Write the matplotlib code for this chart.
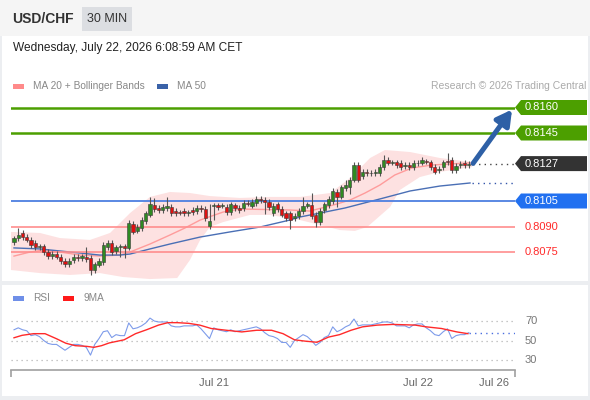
import numpy as np
import matplotlib
matplotlib.use("Agg")
import matplotlib.pyplot as plt
from matplotlib.patches import Rectangle, Polygon
from matplotlib.transforms import blended_transform_factory

plt.rcParams['font.family'] = ['Liberation Sans', 'DejaVu Sans']

# 30 min candles, USD/CHF
opens = [0.80809, 0.80832, 0.80862, 0.80838, 0.80821, 0.80803, 0.80779, 0.80785, 0.80750, 0.80726,
         0.80738, 0.80721, 0.80697, 0.80679, 0.80703, 0.80721, 0.80715, 0.80721, 0.80715, 0.80644,
         0.80674, 0.80691, 0.80779, 0.80803, 0.80756, 0.80779, 0.80785, 0.80774, 0.80915, 0.80874,
         0.80891, 0.80932, 0.80968, 0.81026, 0.81009, 0.80997, 0.81009, 0.81015, 0.80991, 0.80985,
         0.80991, 0.80979, 0.80997, 0.80991, 0.81009, 0.81003, 0.80903, 0.81021, 0.81026, 0.81021,
         0.81015, 0.80985, 0.81026, 0.81009, 0.81009, 0.81038, 0.81021, 0.81038, 0.81062, 0.81056,
         0.81044, 0.80979, 0.81032, 0.81003, 0.80979, 0.80979, 0.80950, 0.80962, 0.80991, 0.81021,
         0.81026, 0.80968, 0.80926, 0.80997, 0.81026, 0.81050, 0.81103, 0.81074, 0.81126, 0.81132,
         0.81174, 0.81262, 0.81197, 0.81221, 0.81215, 0.81215, 0.81215, 0.81250, 0.81291, 0.81274,
         0.81279, 0.81274, 0.81256, 0.81262, 0.81250, 0.81274, 0.81274, 0.81285, 0.81279, 0.81250,
         0.81232, 0.81250, 0.81285, 0.81291, 0.81232, 0.81262, 0.81274, 0.81262]
closes = [0.80832, 0.80850, 0.80838, 0.80821, 0.80791, 0.80779, 0.80785, 0.80750, 0.80726, 0.80738,
          0.80721, 0.80697, 0.80679, 0.80697, 0.80721, 0.80715, 0.80726, 0.80709, 0.80644, 0.80679,
          0.80697, 0.80791, 0.80803, 0.80750, 0.80779, 0.80785, 0.80774, 0.80921, 0.80868, 0.80897,
          0.80938, 0.80979, 0.81032, 0.81003, 0.80997, 0.81015, 0.81021, 0.80979, 0.80979, 0.80982,
          0.80979, 0.80985, 0.80985, 0.81009, 0.81003, 0.80950, 0.80932, 0.81026, 0.81015, 0.81026,
          0.80985, 0.81032, 0.81009, 0.80997, 0.81038, 0.81035, 0.81044, 0.81062, 0.81056, 0.81044,
          0.81015, 0.81021, 0.81003, 0.80968, 0.80950, 0.80938, 0.80962, 0.80991, 0.81021, 0.81032,
          0.80962, 0.80926, 0.80991, 0.81032, 0.81062, 0.81109, 0.81074, 0.81132, 0.81144, 0.81174,
          0.81262, 0.81174, 0.81221, 0.81215, 0.81212, 0.81221, 0.81250, 0.81291, 0.81274, 0.81279,
          0.81262, 0.81250, 0.81262, 0.81250, 0.81274, 0.81271, 0.81291, 0.81282, 0.81250, 0.81221,
          0.81238, 0.81279, 0.81279, 0.81232, 0.81256, 0.81268, 0.81262, 0.81268]
# wick lengths in pips above / below the body
wick_up = [1.5, 4, 1.5, 1.5, 1.5, 1.5, 1.5, 1.5, 1.5, 1.5,
           1.5, 1.5, 1.5, 1.5, 1.5, 1.5, 1.5, 6, 1.5, 1.5,
           1.5, 1.5, 1.5, 1.5, 1.5, 1.5, 1.5, 1.5, 1.5, 1.5,
           1.5, 1.5, 4, 4, 1.5, 1.5, 5, 1.5, 1.5, 1.5,
           1.5, 1.5, 1.5, 1.5, 1.5, 1.5, 10, 1.5, 1.5, 1.5,
           1.5, 1.5, 1.5, 1.5, 1.5, 1.5, 1.5, 1.5, 1.5, 1.5,
           1.5, 1.5, 1.5, 1.5, 1.5, 1.5, 1.5, 1.5, 5, 1.5,
           7, 1.5, 1.5, 1.5, 1.5, 1.5, 1.5, 1.5, 3, 1.5,
           1.5, 1.5, 1.5, 1.5, 1.5, 1.5, 1.5, 3, 1.5, 1.5,
           1.5, 1.5, 1.5, 1.5, 1.5, 1.5, 1.5, 1.5, 1.5, 1.5,
           1.5, 1.5, 5, 1.5, 1.5, 1.5, 1.5, 1.5]
wick_dn = [1.5, 1.5, 1.5, 1.5, 1.5, 1.5, 1.5, 1.5, 1.5, 1.5,
           1.5, 1.5, 1.5, 1.5, 1.5, 1.5, 1.5, 1.5, 3, 1.5,
           1.5, 1.5, 1.5, 1.5, 1.5, 6, 6, 1.5, 1.5, 1.5,
           1.5, 1.5, 1.5, 1.5, 1.5, 1.5, 1.5, 1.5, 1.5, 1.5,
           1.5, 1.5, 1.5, 1.5, 1.5, 1.5, 1.5, 8, 1.5, 1.5,
           1.5, 1.5, 1.5, 1.5, 1.5, 1.5, 1.5, 1.5, 1.5, 7,
           1.5, 1.5, 1.5, 1.5, 1.5, 5, 1.5, 1.5, 1.5, 1.5,
           1.5, 3, 1.5, 1.5, 1.5, 1.5, 6, 1.5, 1.5, 4,
           1.5, 1.5, 1.5, 1.5, 1.5, 1.5, 1.5, 1.5, 1.5, 1.5,
           1.5, 1.5, 1.5, 1.5, 1.5, 1.5, 1.5, 1.5, 1.5, 1.5,
           1.5, 1.5, 1.5, 1.5, 1.5, 1.5, 1.5, 1.5]

# indicators read at candle positions
ma20_idx = [0, 3.8, 7.3, 10.8, 15.5, 20.2, 24.9, 27.3, 32, 36.7, 40.2, 43.8, 49.2, 53.2, 64.9,
            69.6, 75.1, 79.1, 82.6, 86.1, 89.6, 93.6, 98.4, 107.3]
ma20 = [0.80726, 0.80750, 0.80762, 0.80750, 0.80732, 0.80726, 0.80732, 0.80750, 0.80797, 0.80850,
        0.80891, 0.80938, 0.80985, 0.81003, 0.80997, 0.80991, 0.81026, 0.81056, 0.81097, 0.81144,
        0.81203, 0.81244, 0.81262, 0.81274]
ma50_idx = [0, 6.1, 10.8, 15.5, 20.2, 24.9, 27.3, 32, 36.7, 43.8, 50.8, 57.9, 64.9, 67.3, 72,
            77.9, 86.1, 93.2, 100.2, 107.3]
ma50 = [0.80774, 0.80768, 0.80756, 0.80744, 0.80732, 0.80732, 0.80738, 0.80768, 0.80797, 0.80838,
        0.80868, 0.80897, 0.80938, 0.80956, 0.80979, 0.81009, 0.81062, 0.81109, 0.81138, 0.81156]
bb_up_idx = [-0.7, 6.1, 10.8, 17.9, 22.6, 27.3, 32, 36.7, 41.4, 46.1, 53.2, 60.2, 67.3, 74.4,
             79.1, 83.8, 87.3, 93.2, 100.2, 107.8]
bb_up = [0.80868, 0.80862, 0.80832, 0.80821, 0.80862, 0.80979, 0.81074, 0.81103, 0.81097, 0.81079,
         0.81068, 0.81074, 0.81074, 0.81097, 0.81185, 0.81303, 0.81350, 0.81338, 0.81303, 0.81279]
bb_lo_idx = [-0.7, 6.1, 13.2, 20.2, 25.6, 32, 38.4, 41.4, 43.8, 46.1, 49.2, 55.5, 60.2, 67.3,
             72, 76.7, 80.2, 83.1, 88.5, 90.8, 95.5, 100.2, 107.8]
bb_lo = [0.80644, 0.80626, 0.80615, 0.80626, 0.80603, 0.80591, 0.80597, 0.80703, 0.80821, 0.80897,
         0.80926, 0.80968, 0.80968, 0.80938, 0.80909, 0.80879, 0.80874, 0.80897, 0.81015, 0.81115,
         0.81191, 0.81221, 0.81250]

rsi = [61, 63, 61, 60, 55, 56, 54, 50, 47, 46, 46, 43, 40, 43, 46, 46, 45, 43, 35, 46,
       52, 59, 60, 53, 56, 55, 55, 68, 62, 63, 65, 68, 73, 70, 69, 69, 69, 65, 64, 64,
       65, 65, 65, 66, 62, 57, 52, 63, 61, 60, 59, 61, 59, 60, 61, 62, 63, 64, 62, 58,
       55, 54, 52, 48, 48, 43, 50, 53, 56, 54, 50, 45, 48, 53, 55, 64, 59, 61, 64, 66,
       72, 65, 66, 66, 66, 67, 68, 69, 69, 68, 65, 65, 65, 63, 66, 67, 67, 63, 60, 56,
       55, 59, 62, 52, 55, 56, 56, 58]
ma9_idx = [0, 1.9, 4.6, 7.3, 10, 12.2, 14.4, 17.1, 18.8, 20.6, 22.4, 25.9, 28.6, 31.3, 34, 36.2,
           38.4, 41.1, 43.7, 46.4, 50, 53.6, 57.1, 60.6, 63.3, 66, 68.6, 71.3, 74, 76.6, 79.3, 82,
           85.5, 89.1, 94.4, 97, 100.6, 104.2, 106.8]
ma9 = [52.8, 55.3, 57, 57, 51.8, 47.2, 44.7, 44, 43, 44.7, 47.5, 50.7, 57, 61.2, 65.8, 68.3, 68.3,
       67.6, 65.8, 62.3, 60.5, 58.8, 60.5, 60.5, 57, 50.7, 49.3, 48.2, 53.5, 56, 60.5, 64, 65.8,
       66.5, 65.8, 64, 62.3, 58.8, 57]

# key levels: value, style
levels = [0.8160, 0.8145, 0.8127, 0.8105, 0.8090, 0.8075]
level_kind = ['res', 'res', 'last', 'pivot', 'sup', 'sup']
target = 0.8160

rsi_levels = [70, 50, 30]
time_labels = ['Jul 21', 'Jul 22', 'Jul 26']
time_pos = [47, 95, 113]

W, H = 590, 400
def fx(px):
    return px / W
def fy(py):
    return 1 - py / H

fig = plt.figure(figsize=(W / 100, H / 100), dpi=100)
fig.patch.set_facecolor('#eceef1')

# panels (kept behind the axes)
def panel(x, y, w, h, color, z=-10):
    fig.patches.append(Rectangle((fx(x), fy(y + h)), w / W, h / H, transform=fig.transFigure,
                                 facecolor=color, edgecolor='none', zorder=z))

panel(0, 0, 590, 36, '#f5f5f5')
panel(2, 36, 586, 245, 'white')
panel(2, 285, 586, 111, 'white')
panel(82, 7, 50, 24, '#dcdee2', z=-5)

fig.text(fx(12), fy(19), 'USD/CHF', fontsize=10, fontweight='bold', color='#333333', va='center')
fig.text(fx(107), fy(19), '30 MIN', fontsize=9, color='#333333', va='center', ha='center')
fig.text(fx(13), fy(48), 'Wednesday, July 22, 2026 6:08:59 AM CET', fontsize=8.6,
         color='#222222', va='center')

# legend rows
def legend_item(x, y, color, label):
    panel(x, y - 2.5, 11, 5, color, z=-5)
    fig.text(fx(x + 20), fy(y), label, fontsize=7.3, color='#888888', va='center')

legend_item(13, 86, '#ff8a8a', 'MA 20 + Bollinger Bands')
legend_item(157, 86, '#3a62a8', 'MA 50')
fig.text(fx(586), fy(86), 'Research \u00a9 2026 Trading Central', fontsize=7.5,
         color='#aaaaaa', va='center', ha='right')
legend_item(13, 298, '#6f8fe8', 'RSI')
legend_item(63, 298, '#ff1a1a', '9MA')

# price panel
px_per_candle = 4.25
x0 = 14
ax = fig.add_axes([fx(11), fy(282), 504 / W, 187 / H])
ax.set_xlim((11 - x0) / px_per_candle, (515 - x0) / px_per_candle)
ax.set_ylim(0.8105 - 81 / 17000, 0.8105 + 106 / 17000)
ax.axis('off')

o = np.array(opens)
c = np.array(closes)
idx = np.arange(len(o))
hi = np.maximum(o, c) + np.array(wick_up) * 0.0001
lo = np.minimum(o, c) - np.array(wick_dn) * 0.0001

ax.fill(np.r_[bb_up_idx, bb_lo_idx[::-1]], np.r_[bb_up, bb_lo[::-1]],
        color='#fde1e1', lw=0, zorder=1)
ax.plot(ma20_idx, ma20, color='#ff9c9c', lw=1, zorder=2)
ax.plot(ma50_idx, ma50, color='#4a6fb5', lw=1, zorder=2)

colors = {'res': '#4c9f00', 'last': '#333333', 'pivot': '#2170f0', 'sup': '#ff2a2a'}
for lv, kind in zip(levels, level_kind):
    if kind == 'res':
        ax.axhline(lv, color='#4c9f00', lw=1.8, zorder=3)
    elif kind == 'pivot':
        ax.axhline(lv, color='#4d7fe0', lw=1.3, zorder=3)
    elif kind == 'sup':
        ax.axhline(lv, color='#ff8e8e', lw=1.2, zorder=3)

ax.vlines(idx, lo, hi, color='#555555', lw=0.8, zorder=4)
up = c >= o
body_h = np.maximum(np.abs(c - o), 0.00002)
ax.bar(idx[up], body_h[up], bottom=np.minimum(o, c)[up], width=0.72,
       color='#2f8a22', edgecolor='#3a3a3a', lw=0.4, zorder=5)
ax.bar(idx[~up], body_h[~up], bottom=np.minimum(o, c)[~up], width=0.72,
       color='#e01010', edgecolor='#3a3a3a', lw=0.4, zorder=5)

# dotted projections of last close and last MA 50
x_end = ax.get_xlim()[1]
ax.plot([idx[-1] + 1, x_end], [c[-1], c[-1]], color='#444444', lw=1, ls=(0, (1, 3)), zorder=3)
ax.plot([ma50_idx[-1] + 0.5, x_end], [ma50[-1], ma50[-1]], color='#3355aa', lw=1,
        ls=(0, (1, 3)), zorder=3)

# forecast arrow
ax.annotate('', xy=(x_end - 0.7, target - 0.00012), xytext=(idx[-1] + 1, c[-1] + 0.00003),
            arrowprops=dict(arrowstyle='-|>,head_length=0.9,head_width=0.5', lw=3.6,
                            color='#2e60a6', shrinkA=0, shrinkB=0), zorder=6)

# level tags at the right
tr = blended_transform_factory(ax.transAxes, ax.transData)
half = 7.5 / 17000
xr = (587 - 11) / 504
xb = (521 - 11) / 504
for lv, kind in zip(levels, level_kind):
    lab = f'{lv:.4f}'
    if kind == 'sup':
        ax.text((525 - 11) / 504, lv, lab, transform=tr, fontsize=8, color=colors[kind],
                va='center', ha='left', clip_on=False)
        continue
    poly = Polygon([(1.0, lv), (xb, lv + half), (xr, lv + half), (xr, lv - half), (xb, lv - half)],
                   closed=True, transform=tr, facecolor=colors[kind], edgecolor='none',
                   clip_on=False, zorder=7)
    ax.add_patch(poly)
    ax.text((525 - 11) / 504, lv, lab, transform=tr, fontsize=8, color='white',
            va='center', ha='left', clip_on=False, zorder=8)

# RSI panel
ax2 = fig.add_axes([fx(11), fy(370), 504 / W, 65 / H])
ax2.set_xlim(ax.get_xlim())
ax2.set_ylim(50 - 29.5 / 0.975, 50 + 35.5 / 0.975)
ax2.set_facecolor('none')
for s in ['top', 'left', 'right']:
    ax2.spines[s].set_visible(False)
ax2.spines['bottom'].set_color('#a0a0a0')
ax2.spines['bottom'].set_linewidth(1.2)
ax2.set_yticks([])
ax2.set_xticks(time_pos)
ax2.set_xticklabels(time_labels, fontsize=8, color='#666666')
ax2.tick_params(axis='x', length=0, pad=6)
ax2.set_xticks(ax.get_xlim(), minor=True)
ax2.tick_params(axis='x', which='minor', length=5, width=1.2, color='#a0a0a0')

tr2 = blended_transform_factory(ax2.transAxes, ax2.transData)
for lv in rsi_levels:
    ax2.axhline(lv, color='#b5b5b5', lw=0.9, ls=(0, (1, 3)), zorder=1)
    ax2.text((525 - 11) / 504, lv, str(lv), transform=tr2,
             fontsize=8, color='#777777', va='center', ha='left')

ax2.plot(np.arange(len(rsi)), rsi, color='#7d9bea', lw=0.8, zorder=2)
ax2.plot(ma9_idx, ma9, color='#ff2a2a', lw=1, zorder=3)
ax2.plot([len(rsi) - 1, x_end], [rsi[-1], rsi[-1]], color='#4a6ee0', lw=1, ls=(0, (1, 3)), zorder=2)

plt.savefig('out.png', dpi=100, facecolor=fig.get_facecolor())
